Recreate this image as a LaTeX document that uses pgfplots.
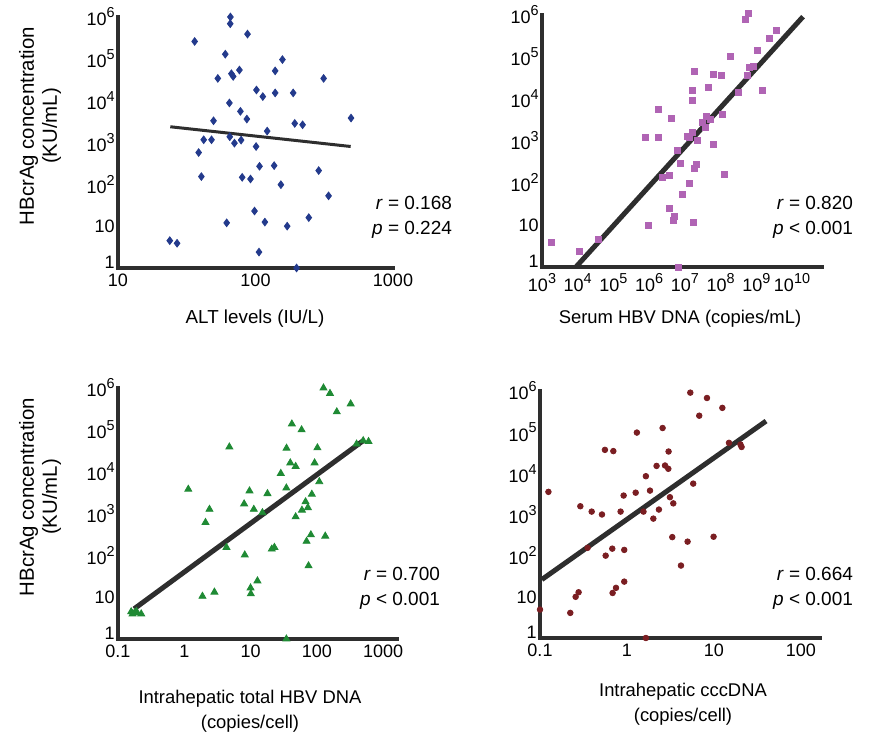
\documentclass[border=0pt]{standalone}
\usepackage{fontspec}
\setmainfont{Liberation Sans}
\usepackage{pgfplots}
\pgfplotsset{compat=1.18}
\definecolor{axc}{HTML}{2E2E2E}
\definecolor{c1}{HTML}{233A8C}
\definecolor{c2}{HTML}{B064B4}
\definecolor{c3}{HTML}{1F8A34}
\definecolor{c4}{HTML}{7A1E22}
\newcommand{\sups}[1]{\raisebox{0.45em}{\fontsize{7.2}{7.2}\selectfont #1}}
\newcommand{\one}{\raisebox{6pt}{1}}
\pgfplotsset{
  hbpanel/.style={
    scale only axis,
    ymin=1, ymax=1e6,
    axis x line=bottom, axis y line=left,
    axis line style={-, line width=2pt, color=axc, line cap=rect},
    major tick length=0pt, minor tick length=0pt,
    ytick={1,10,100,1000,10000,100000,1000000},
    yticklabels={\one,10,10\sups{2},10\sups{3},10\sups{4},10\sups{5},10\sups{6}},
    tick label style={font=\fontsize{9}{10}\selectfont, text=black},
    yticklabel style={inner sep=1.5pt},
    xticklabel style={inner sep=3pt},
    clip=false
  }
}
\tikzset{fitline/.style={color=axc, line width=2.5pt}}
\begin{document}
\begin{tikzpicture}
\useasboundingbox (0,0) rectangle (434.5pt,368.5pt);
% ---------- Panel 1: ALT ----------
\begin{axis}[xmode=log, ymode=log, hbpanel, anchor=south west, at={(59pt,234.5pt)}, width=137.5pt, height=125.5pt,
  xmin=10, xmax=1000, xtick={10,100,1000}, xticklabels={10,100,1000}]
\addplot[only marks, mark=diamond*, mark size=1.9pt, color=c1] coordinates {
(23.8,4.5) (26.9,3.9) (36.1,2.6e5) (38.6,575) (40.4,153) (42,1160) (47.9,1160)
(49.5,3300) (53.2,3.4e4) (60.3,1.29e5) (61.7,12) (64.6,8800) (65.7,1e6) (65.5,6.9e5)
(66.8,4.4e4) (68.8,3.8e4) (65,1370) (70.3,964) (76.4,5.4e4) (77.7,5550) (78.6,1140)
(80,147) (86.5,3630) (87.5,3.9e5) (92,134) (98.4,23) (101,800) (101.6,1.8e4)
(107,270) (106,2.4) (113,1.25e4) (117,12.5) (121.6,1870) (136.7,280) (139,5.15e4)
(139,1.53e4) (153,98) (157,9.6e4) (170,10) (188,1.53e4) (193,2860) (220,2650)
(199,1) (244,16) (288,213) (313,3.4e4) (340,53) (495,3840)
};
\addplot[color=axc, line width=1.5pt] coordinates {(24,2377) (492,802)};
\end{axis}
% ---------- Panel 2: Serum HBV DNA ----------
\begin{axis}[xmode=log, ymode=log, hbpanel, anchor=south west, at={(271pt,235pt)}, width=140pt, height=126pt,
  xmin=1e3, xmax=6.92e10,
  xtick={1e3,1e4,1e5,1e6,1e7,1e8,1e9,1e10},
  xticklabels={10\sups{3},10\sups{4},10\sups{5},10\sups{6},10\sups{7},10\sups{8},10\sups{9},10\sups{10}}]
\addplot[only marks, mark=square*, mark size=1.5pt, color=c2] coordinates {
(1778,3.84) (11350,2.29) (37150,4.53) (6.76e6,1) (9.77e5,10) (3.63e6,24.2)
(5.25e6,16.1) (4.9e6,12.7) (1.78e7,11.6) (8.7e6,54.5) (1.35e7,100) (2.29e6,137)
(3.63e6,153) (7.59e6,291) (1.9e7,217) (2.09e7,281) (1.32e8,158) (6.17e6,597)
(6.31e7,847) (7.67e5,1225) (1.82e6,1225) (1.15e7,1318) (1.58e7,1585) (1.38e7,1247)
(2.19e7,1038) (3.72e7,2089) (3.09e7,2754) (3.89e7,3837) (5.25e7,3192) (1.12e8,4207)
(4.07e6,3499) (1.86e6,5649) (1.66e7,9120) (1.58e7,16140) (4.47e7,19050) (1.82e7,46130)
(6.17e7,39080) (1.05e8,36310) (1.91e8,1.04e5) (3.09e8,14190) (5.62e8,36310)
(6.46e8,55460) (8.32e8,58610) (1.48e9,16440) (1.07e9,1.42e5) (2.29e9,2.7e5)
(3.63e9,4.29e5) (5.01e8,7.87e5) (6.03e8,1.08e6)
};
\addplot[fitline] coordinates {(8913,1) (2.04e10,9.12e5)};
\end{axis}
% ---------- Panel 3: Intrahepatic total HBV DNA ----------
\begin{axis}[xmode=log, ymode=log, hbpanel, anchor=south west, at={(59pt,49pt)}, width=139.5pt, height=125.5pt,
  xmin=0.1, xmax=1620, xtick={0.1,1,10,100,1000}, xticklabels={0.1,1,10,100,1000}]
\addplot[only marks, mark=triangle*, mark size=2pt, color=c3] coordinates {
(0.158,4.47) (0.178,4.27) (0.224,3.98) (0.166,3.98) (0.19,4.57)
(1.88,10.5) (2.85,13.2) (10,16.6) (10.1,12.0) (12.7,24.5) (34.7,1)
(4.33,155) (8.18,102) (20.9,141) (22.9,155) (75,56.2) (70,216) (81.3,309) (134,288)
(1.15,3802) (2.4,1259) (2.09,610) (4.79,38900) (8.0,1698) (9.64,3467) (11.2,1259)
(15.1,1047) (18.0,2985) (28.6,9060) (34.7,4074) (34.9,36300) (39.8,16220)
(47.9,13340) (42,1.38e5) (58.9,1e5) (47.9,832) (59.6,1202) (67.6,1905) (73.3,1380)
(84.1,2884) (92.5,16220) (102,37150) (109,5754) (126,1e6) (158,7.41e5) (200,2.69e5)
(324,4.17e5) (398,45700) (501,55000) (603,52500)
};
\addplot[fitline] coordinates {(0.175,5.25) (501,55000)};
\end{axis}
% ---------- Panel 4: Intrahepatic cccDNA ----------
\begin{axis}[xmode=log, ymode=log, hbpanel, anchor=south west, at={(270pt,49.5pt)}, width=140pt, height=123.5pt,
  xmin=0.1, xmax=166, xtick={0.1,1,10,100}, xticklabels={0.1,1,10,100}]
\addplot[only marks, mark=*, mark size=1.4pt, color=c4] coordinates {
(0.1,4.9) (0.125,3548) (0.223,4.07) (0.257,10) (0.278,12.9) (0.291,1585) (0.353,155)
(0.393,1175) (0.516,1000) (0.558,37150) (0.697,34670) (0.569,100) (0.678,148)
(0.684,12.4) (0.748,16.5) (0.845,1175) (0.916,2884) (0.931,138) (0.931,23.4)
(1.26,3388) (1.3,97700) (1.55,1175) (1.65,8511) (1.65,1) (1.84,3802) (2.01,794)
(2.19,15140) (2.33,1318) (2.57,1.26e5) (2.74,15490) (2.99,12880) (3.01,33880)
(3.12,2630) (3.41,1862) (3.32,282) (4.18,57.5) (4.98,219) (5.35,9.12e5) (5.78,5623)
(6.78,2.51e5) (8.32,6.76e5) (9.91,288) (12.5,3.89e5) (14.9,55000) (20.2,50100)
(20.8,43650)
};
\addplot[fitline] coordinates {(0.105,26.3) (39.8,1.86e5)};
\end{axis}
% ---------- Labels ----------
\node[rotate=90, align=center, font=\fontsize{10.2}{11.5}\selectfont] at (20pt,305.5pt) {HBcrAg concentration\\(KU/mL)};
\node[rotate=90, align=center, font=\fontsize{10.2}{11.5}\selectfont] at (20pt,120pt) {HBcrAg concentration\\(KU/mL)};
\node[font=\fontsize{9.4}{12.5}\selectfont] at (127.5pt,209pt) {ALT levels (IU/L)};
\node[font=\fontsize{9.2}{12.5}\selectfont] at (340pt,209pt) {Serum HBV DNA (copies/mL)};
\node[align=center, font=\fontsize{9.2}{12.5}\selectfont] at (125pt,13pt) {Intrahepatic total HBV DNA\\(copies/cell)};
\node[align=center, font=\fontsize{9.2}{12.5}\selectfont] at (341.5pt,16.5pt) {Intrahepatic cccDNA\\(copies/cell)};
\node[anchor=east, align=right, font=\fontsize{9.5}{12.5}\selectfont] at (229.5pt,260pt) {\textit{r} = 0.168\\\textit{p} = 0.224};
\node[anchor=east, align=right, font=\fontsize{9.5}{12.5}\selectfont] at (430pt,260pt) {\textit{r} = 0.820\\\textit{p} < 0.001};
\node[anchor=east, align=right, font=\fontsize{9.5}{12.5}\selectfont] at (223.5pt,74.5pt) {\textit{r} = 0.700\\\textit{p} < 0.001};
\node[anchor=east, align=right, font=\fontsize{9.5}{12.5}\selectfont] at (430pt,74.5pt) {\textit{r} = 0.664\\\textit{p} < 0.001};
\end{tikzpicture}
\end{document}
